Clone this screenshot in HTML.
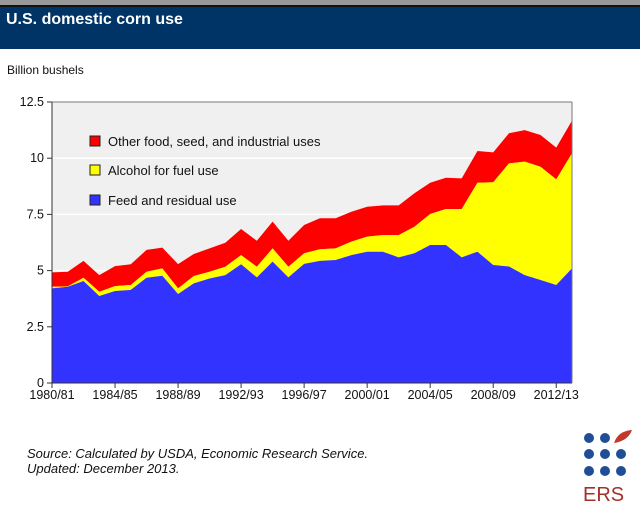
<!DOCTYPE html>
<html><head><meta charset="utf-8"><style>
body{margin:0;width:640px;height:505px;background:#fff;font-family:"Liberation Sans",sans-serif;overflow:hidden;position:relative}
</style></head><body>
<div style="position:absolute;left:0;top:0;width:640px;height:5px;background:#999"></div>
<div style="position:absolute;left:0;top:5px;width:640px;height:44px;background:#003366;border-top:2px solid #111;box-sizing:border-box"></div>
<div style="position:absolute;left:6px;top:11px;color:#fff;font-weight:bold;font-size:16px">U.S. domestic corn use</div>
<div style="position:absolute;left:7px;top:63px;font-size:12px;color:#111">Billion bushels</div>
<svg id="chart" width="640" height="505" style="position:absolute;left:0;top:0"></svg>
<div style="position:absolute;left:27px;top:446px;font-size:13px;font-style:italic;color:#111;line-height:15px">Source: Calculated by USDA, Economic Research Service.<br>Updated: December 2013.</div>
<svg width="70" height="80" style="position:absolute;left:570px;top:425px">
<g fill="#1f4e96">
<circle cx="19" cy="13" r="5"/><circle cx="35" cy="13" r="5"/>
<circle cx="19" cy="29" r="5"/><circle cx="35" cy="29" r="5"/><circle cx="51" cy="29" r="5"/>
<circle cx="19" cy="46" r="5"/><circle cx="35" cy="46" r="5"/><circle cx="51" cy="46" r="5"/></g>
<path d="M44 18 Q48 6 62 5 Q58 16 44 18Z" fill="#c0392b"/>
<text x="13" y="76" font-size="20" fill="#a3302a" font-family="Liberation Sans, sans-serif">ERS</text>
</svg>
<script>
const years=["1980/81","1981/82","1982/83","1983/84","1984/85","1985/86","1986/87","1987/88","1988/89","1989/90","1990/91","1991/92","1992/93","1993/94","1994/95","1995/96","1996/97","1997/98","1998/99","1999/00","2000/01","2001/02","2002/03","2003/04","2004/05","2005/06","2006/07","2007/08","2008/09","2009/10","2010/11","2011/12","2012/13","2013/14"];
const feed=[4.21,4.28,4.54,3.87,4.09,4.14,4.68,4.77,3.96,4.43,4.65,4.8,5.28,4.7,5.4,4.7,5.3,5.43,5.47,5.69,5.84,5.84,5.59,5.77,6.14,6.14,5.59,5.84,5.25,5.18,4.8,4.58,4.36,5.1];
const alcohol=[0.07,0.02,0.14,0.19,0.22,0.22,0.27,0.33,0.25,0.33,0.30,0.37,0.41,0.47,0.59,0.47,0.47,0.52,0.52,0.60,0.67,0.74,0.99,1.18,1.38,1.60,2.15,3.07,3.68,4.59,5.05,5.04,4.70,5.12];
const other=[0.64,0.65,0.75,0.74,0.89,0.92,0.97,0.92,1.08,0.98,1.04,1.07,1.16,1.16,1.19,1.16,1.26,1.38,1.34,1.33,1.33,1.32,1.32,1.49,1.39,1.39,1.36,1.41,1.33,1.34,1.40,1.41,1.41,1.45];
const yTicks=[0,2.5,5,7.5,10,12.5];
const yTickLabels=["0","2.5","5","7.5","10","12.5"];
const xLabelIdx=[0,4,8,12,16,20,24,28,32];
const X0=52,X1=572,Y0=383,Y1=102,YMAX=12.5;
const sx=i=>X0+(X1-X0)*i/(years.length-1);
const sy=v=>Y0-(Y0-Y1)*v/YMAX;
const svg=document.getElementById('chart');
const NS="http://www.w3.org/2000/svg";
function mk(t,a){const e=document.createElementNS(NS,t);for(const k in a)e.setAttribute(k,a[k]);svg.appendChild(e);return e;}
const bg=mk('rect',{x:X0,y:Y1,width:X1-X0,height:Y0-Y1,fill:'#f0f0f0'});


yTicks.forEach((v,k)=>{
  if(v>0&&v<YMAX){const g=mk('line',{x1:X0,x2:X1,y1:sy(v),y2:sy(v),stroke:'#fff','stroke-width':1.5});
  
  }
  const t=mk('line',{x1:X0-5,x2:X0,y1:sy(v),y2:sy(v),stroke:'#333'});
  
  
  const l=mk('text',{x:X0-8,y:sy(v)+4,'text-anchor':'end','font-size':12.5,fill:'#111'});
  l.textContent=yTickLabels[k];
  
  
});
const c1=feed.map((v)=>v);
const c2=feed.map((v,i)=>v+alcohol[i]);
const c3=c2.map((v,i)=>v+other[i]);
function area(top,bot,color,name){
  let d='M'+top.map((v,i)=>sx(i)+','+sy(v)).join('L');
  for(let i=bot.length-1;i>=0;i--)d+='L'+sx(i)+','+sy(bot[i]);
  const p=mk('path',{d:d+'Z',fill:color});
  
  
}
const zero=feed.map(()=>0);
area(c3,c2,'#ff0000','other-uses-area');
area(c2,c1,'#ffff00','alcohol-fuel-area');
area(c1,zero,'#3333ff','feed-residual-area');
const ax=mk('path',{d:`M${X0},${Y1}L${X0},${Y0}L${X1},${Y0}`,stroke:'#333',fill:'none'});


const rb=mk('line',{x1:X1,x2:X1,y1:Y1,y2:Y0,stroke:'#777'});


const tb=mk('line',{x1:X0,x2:X1,y1:Y1,y2:Y1,stroke:'#777'});


xLabelIdx.forEach(i=>{
  const t=mk('line',{x1:sx(i),x2:sx(i),y1:Y0,y2:Y0+5,stroke:'#333'});
  
  
  const l=mk('text',{x:sx(i),y:Y0+16,'text-anchor':'middle','font-size':12.5,fill:'#111'});
  l.textContent=years[i];
  
  
});
const legend=[["Other food, seed, and industrial uses","#ff0000",142],["Alcohol for fuel use","#ffff00",171],["Feed and residual use","#3333ff",201]];
legend.forEach(([txt,col,y])=>{
  const r=mk('rect',{x:90,y:y-6,width:10,height:10,fill:col,stroke:'#222'});
  
  
  const t=mk('text',{x:108,y:y+4,'font-size':13,fill:'#111'});
  t.textContent=txt;
  
  
});
</script>
</body></html>
